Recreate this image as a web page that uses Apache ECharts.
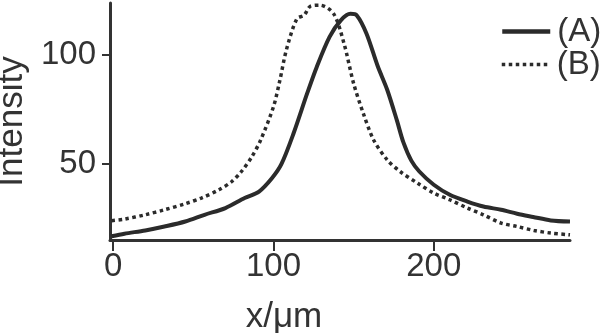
<!DOCTYPE html>
<html>
<head>
<meta charset="utf-8">
<script src="https://cdn.jsdelivr.net/npm/echarts@6/dist/echarts.min.js"></script>
<style>
html,body{margin:0;padding:0;background:#fff;}
#chart{width:601px;height:333px;}
</style>
</head>
<body>
<div id="chart"></div>
<script>
var seriesNames = ['(A)', '(B)'];
var xA = [-1, 7, 20, 32, 45, 57, 70, 82, 91, 99, 105, 112.5, 121, 127, 135, 142, 148, 152, 158, 165, 171, 177, 181, 186, 191, 200, 210, 221, 231, 242, 252, 262, 273, 285];
var yA = [16.7, 17.9, 19.4, 21.2, 23.5, 26.6, 29.7, 34.3, 37.3, 43.4, 50, 64, 82.4, 94.6, 108.4, 116, 119, 118.3, 110, 95, 84, 70, 60, 51.5, 46.5, 40.4, 35.8, 32.7, 30.4, 28.9, 27.1, 25.6, 24, 23.5];
var xB = [-1, 7, 20, 32, 45, 55, 66, 74, 80, 86.5, 92, 100, 104, 108, 114.6, 119, 123, 129, 137.5, 144, 150, 156, 162.5, 171, 179, 190, 200, 210, 221, 231, 242, 252, 262.5, 273, 285];
var yB = [23.9, 24.6, 26.6, 28.9, 31.7, 34.3, 38.1, 41.9, 46.5, 53.3, 61, 76.3, 88.5, 102.3, 116.8, 118.3, 122.5, 123, 119.1, 105.4, 87, 73.3, 61, 51.8, 46.5, 41.1, 36.6, 33.5, 29.7, 26.6, 22.8, 21.2, 19.4, 18.2, 17.4];
var xTicks = [0, 100, 200];
var yTicks = [50, 100];

function pairs(xs, ys) { return xs.map(function (x, i) { return [x, ys[i]]; }); }

var FONT = '"Liberation Sans", Arial, sans-serif';
var INK = '#333333';
var LINE = '#2b2b2b';
function legendFor(name, top, lw) {
  return {
    orient: 'vertical', left: 495, top: top,
    itemWidth: 48, itemHeight: 14, itemGap: 0,
    itemStyle: {opacity: 0},
    lineStyle: {width: lw},
    textStyle: {fontFamily: FONT, fontSize: 33, color: INK, lineHeight: 31, padding: [0, 0, 0, 2]},
    data: [name]
  };
}
var chart = echarts.init(document.getElementById('chart'), null, {renderer: 'canvas'});
chart.setOption({
  animation: false,
  backgroundColor: '#ffffff',
  grid: {left: 110, top: 3, right: 31, bottom: 93, containLabel: false, outerBoundsMode: 'none'},
  legend: [
    legendFor(seriesNames[0], 10, 4.5),
    legendFor(seriesNames[1], 43, 3.5)
  ],
  xAxis: {
    type: 'value', min: -2, max: 285,
    name: 'x/\u03bcm', nameLocation: 'middle', nameGap: 60,
    nameTextStyle: {fontFamily: FONT, fontSize: 35, color: INK, padding: [0, 112, 0, 0]},
    axisLine: {show: true, onZero: false, lineStyle: {color: INK, width: 3}},
    axisTick: {show: true, length: 11, customValues: xTicks, lineStyle: {color: INK, width: 2}},
    axisLabel: {customValues: xTicks, fontFamily: FONT, fontSize: 33, color: INK, margin: 10},
    splitLine: {show: false}
  },
  yAxis: {
    type: 'value', min: 15, max: 124,
    name: 'Intensity', nameLocation: 'middle', nameGap: 74, nameRotate: 90,
    nameTextStyle: {fontFamily: FONT, fontSize: 35, color: INK},
    axisLine: {show: true, onZero: false, lineStyle: {color: INK, width: 3}},
    axisTick: {show: true, length: 8, customValues: yTicks, lineStyle: {color: INK, width: 2}},
    axisLabel: {customValues: yTicks, fontFamily: FONT, fontSize: 33, color: INK, margin: 14},
    splitLine: {show: false}
  },
  series: [
    {name: seriesNames[0], type: 'line', data: pairs(xA, yA), smooth: 0.3, symbol: 'none',
     lineStyle: {color: LINE, width: 4}, itemStyle: {color: LINE}},
    {name: seriesNames[1], type: 'line', data: pairs(xB, yB), smooth: 0.3, symbol: 'none',
     lineStyle: {color: LINE, width: 3.5, type: [3.5, 3.5]}, itemStyle: {color: LINE}}
  ]
});
</script>
</body>
</html>
